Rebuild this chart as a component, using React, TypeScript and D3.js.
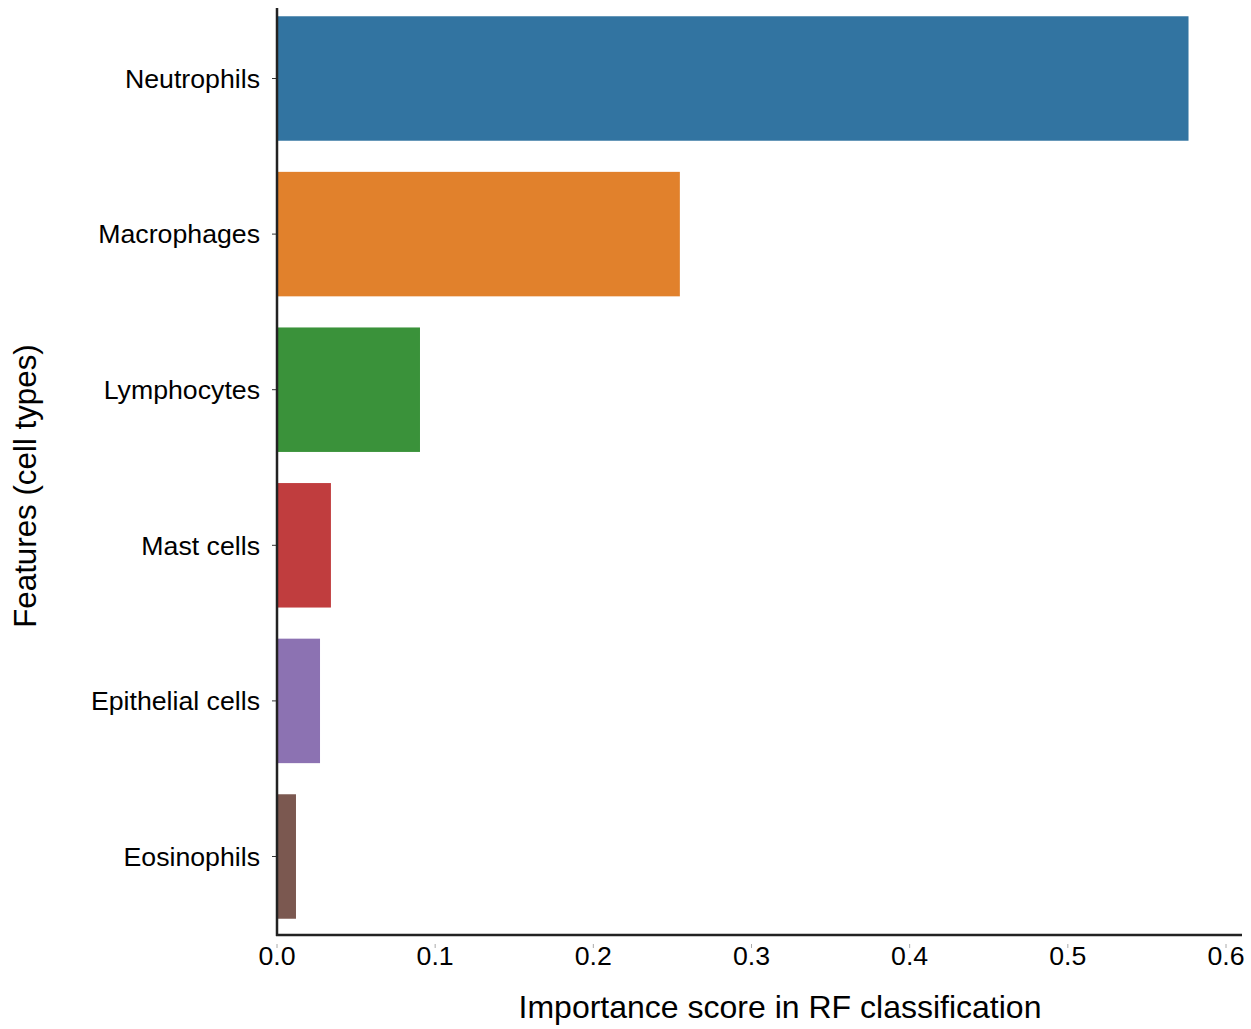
import React, { useEffect, useRef } from "react";
import * as d3 from "d3";

const categories = [
  "Neutrophils",
  "Macrophages",
  "Lymphocytes",
  "Mast cells",
  "Epithelial cells",
  "Eosinophils",
];
const importance = [0.5763, 0.2547, 0.0904, 0.0341, 0.0272, 0.012];
const colors = ["#3274a1", "#e1812c", "#3a923a", "#c03d3e", "#8c72b2", "#7b5850"];
const xTicks = [0, 0.1, 0.2, 0.3, 0.4, 0.5, 0.6];

const W = 1251;
const H = 1029;
const FONT = "'Liberation Sans', Arial, sans-serif";

const App: React.FC = () => {
  const svgRef = useRef<SVGSVGElement>(null);

  useEffect(() => {
    if (!svgRef.current) return;
    const svg = d3.select(svgRef.current);
    svg.selectAll("*").remove();

    const left = 277;
    const bottom = 935;

    const x = d3.scaleLinear().domain([0, 0.6]).range([left, 1226]);
    const y = d3
      .scaleBand<string>()
      .domain(categories)
      .range([0.7, 934.3])
      .paddingInner(0.2)
      .paddingOuter(0.1);

    // bars
    svg
      .append("g")
      .selectAll("rect")
      .data(categories)
      .join("rect")
      .attr("x", x(0))
      .attr("y", (d) => y(d)!)
      .attr("width", (_, i) => x(importance[i]) - x(0))
      .attr("height", y.bandwidth())
      .attr("fill", (_, i) => colors[i]);

    // y axis
    const yAxis = svg.append("g");
    yAxis
      .selectAll("line")
      .data(categories)
      .join("line")
      .attr("x1", left - 5)
      .attr("x2", left)
      .attr("y1", (d) => y(d)! + y.bandwidth() / 2)
      .attr("y2", (d) => y(d)! + y.bandwidth() / 2)
      .attr("stroke", "#333")
      .attr("stroke-width", 1);
    yAxis
      .selectAll("text")
      .data(categories)
      .join("text")
      .attr("x", left - 17)
      .attr("y", (d) => y(d)! + y.bandwidth() / 2)
      .attr("dy", "0.35em")
      .attr("text-anchor", "end")
      .attr("font-family", FONT)
      .attr("font-size", 26.7)
      .attr("fill", "#000")
      .text((d) => d);

    // x axis
    const xAxis = svg.append("g");
    xAxis
      .selectAll("line")
      .data(xTicks)
      .join("line")
      .attr("x1", (d) => x(d))
      .attr("x2", (d) => x(d))
      .attr("y1", bottom + 9)
      .attr("y2", bottom + 13)
      .attr("stroke", "#aaa")
      .attr("stroke-width", 1);
    xAxis
      .selectAll("text")
      .data(xTicks)
      .join("text")
      .attr("x", (d) => x(d))
      .attr("y", bottom + 30)
      .attr("text-anchor", "middle")
      .attr("font-family", FONT)
      .attr("font-size", 26.7)
      .attr("fill", "#000")
      .text((d) => d3.format(".1f")(d));

    // spines
    svg
      .append("line")
      .attr("x1", left)
      .attr("x2", left)
      .attr("y1", 8)
      .attr("y2", bottom + 1)
      .attr("stroke", "#222")
      .attr("stroke-width", 2.5);
    svg
      .append("line")
      .attr("x1", left - 1)
      .attr("x2", 1242)
      .attr("y1", bottom)
      .attr("y2", bottom)
      .attr("stroke", "#222")
      .attr("stroke-width", 2.5);

    // axis titles
    svg
      .append("text")
      .attr("x", 780)
      .attr("y", 1018)
      .attr("text-anchor", "middle")
      .attr("font-family", FONT)
      .attr("font-size", 32)
      .attr("fill", "#000")
      .text("Importance score in RF classification");
    svg
      .append("text")
      .attr("transform", "translate(36,486) rotate(-90)")
      .attr("text-anchor", "middle")
      .attr("font-family", FONT)
      .attr("font-size", 31.3)
      .attr("fill", "#000")
      .text("Features (cell types)");
  }, []);

  return (
    <svg
      ref={svgRef}
      width={W}
      height={H}
      style={{ position: "absolute", left: 0, top: 0, background: "#fff" }}
    />
  );
};

export default App;
